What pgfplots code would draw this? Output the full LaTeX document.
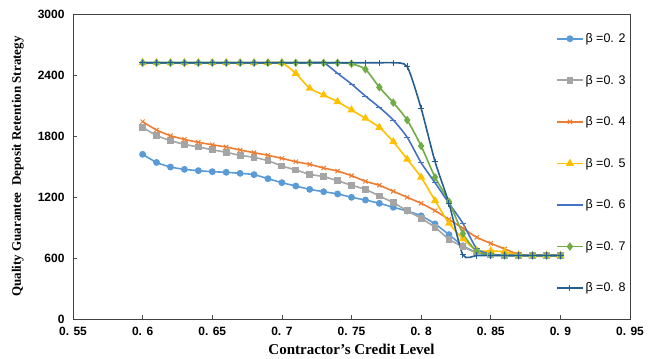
\documentclass[border=0pt]{standalone}
\usepackage{fontspec}
\setmainfont{Liberation Serif}
\setsansfont{Liberation Sans}
\usepackage{pgfplots}
\pgfplotsset{compat=1.18}
\definecolor{cA}{HTML}{5B9BD5}
\definecolor{cB}{HTML}{A5A5A5}
\definecolor{cC}{HTML}{ED7D31}
\definecolor{cD}{HTML}{FFC000}
\definecolor{cE}{HTML}{4472C4}
\definecolor{cF}{HTML}{70AD47}
\definecolor{cG}{HTML}{255E91}
\begin{document}
\begin{tikzpicture}
\begin{axis}[
  scale only axis, width=557pt, height=305pt,
  xmin=0.55, xmax=0.95, ymin=0, ymax=3000,
  xtick={0.55,0.6,0.65,0.7,0.75,0.8,0.85,0.9,0.95},
  xticklabels={0. 55,0. 6,0. 65,0. 7,0. 75,0. 8,0. 85,0. 9,0. 95},
  ytick={0,600,1200,1800,2400,3000},
  yticklabels={0,600,1200,1800,2400,3000},
  tick pos=left, tick align=inside, major tick length=4pt,
  tick style={black!70, line width=0.6pt},
  axis line style={black!75, line width=0.8pt},
  ticklabel style={font=\sffamily\bfseries\fontsize{12}{14}\selectfont},
  xticklabel style={yshift=-5pt},
  yticklabel style={xshift=-5pt},
  xlabel={Contractor's Credit Level},
  ylabel={Quality Guarantee\ \ Deposit Retention Strategy},
  xlabel style={font=\bfseries\fontsize{15}{17}\selectfont, at={(axis description cs:0.5,-0.098)}, anchor=center},
  ylabel style={font=\bfseries\fontsize{13}{15}\selectfont, at={(axis description cs:-0.099,0.5)}, anchor=center},
  legend style={at={(axis description cs:0.862,0.95)}, anchor=north west,
    draw=none, fill=none, font=\sffamily\fontsize{12.5}{14}\selectfont,
    row sep=27pt, cells={anchor=west}},
  legend image code/.code={\draw[mark repeat=2,mark phase=2] plot coordinates {(0cm,0cm) (0.45cm,0cm) (0.9cm,0cm)};},
  every axis plot/.append style={line width=1.6pt, smooth, tension=0.4},
]
\addplot[cA, mark=*, mark size=2.6pt] coordinates {
(0.60,1620)(0.61,1540)(0.62,1495)(0.63,1472)(0.64,1459)(0.65,1449)(0.66,1443)(0.67,1433)(0.68,1420)(0.69,1380)
(0.70,1341)(0.71,1308)(0.72,1275)(0.73,1252)(0.74,1230)(0.75,1197)(0.76,1170)(0.77,1138)(0.78,1099)(0.79,1062)
(0.80,1015)(0.81,935)(0.82,830)(0.83,720)(0.84,655)(0.85,632)(0.86,628)(0.87,625)(0.88,625)(0.89,625)(0.90,625)};
\addlegendentry{β =0. 2}
\addplot[cB, mark=square*, mark size=2.6pt] coordinates {
(0.60,1885)(0.61,1805)(0.62,1754)(0.63,1718)(0.64,1692)(0.65,1665)(0.66,1639)(0.67,1610)(0.68,1590)(0.69,1557)
(0.70,1505)(0.71,1466)(0.72,1423)(0.73,1400)(0.74,1360)(0.75,1315)(0.76,1275)(0.77,1210)(0.78,1144)(0.79,1065)
(0.80,990)(0.81,902)(0.82,784)(0.83,711)(0.84,650)(0.85,630)(0.86,625)(0.87,625)(0.88,625)(0.89,625)(0.90,625)};
\addlegendentry{β =0. 3}
\addplot[cC, mark=x, mark size=3pt, mark options={line width=1pt}] coordinates {
(0.60,1941)(0.61,1859)(0.62,1803)(0.63,1767)(0.64,1738)(0.65,1714)(0.66,1692)(0.67,1662)(0.68,1636)(0.69,1610)
(0.70,1580)(0.71,1547)(0.72,1521)(0.73,1485)(0.74,1455)(0.75,1410)(0.76,1354)(0.77,1315)(0.78,1256)(0.79,1197)
(0.80,1138)(0.81,1065)(0.82,980)(0.83,892)(0.84,803)(0.85,744)(0.86,689)(0.87,636)(0.88,625)(0.89,625)(0.90,625)};
\addlegendentry{β =0. 4}
\addplot[cD, mark=triangle*, mark size=3.2pt] coordinates {
(0.60,2520)(0.61,2520)(0.62,2520)(0.63,2520)(0.64,2520)(0.65,2520)(0.66,2520)(0.67,2520)(0.68,2520)(0.69,2520)
(0.70,2520)(0.71,2416)(0.72,2269)(0.73,2203)(0.74,2137)(0.75,2056)(0.76,1974)(0.77,1885)(0.78,1744)(0.79,1571)
(0.80,1394)(0.81,1164)(0.82,941)(0.83,790)(0.84,672)(0.85,670)(0.86,660)(0.87,630)(0.88,625)(0.89,625)(0.90,625)};
\addlegendentry{β =0. 5}
\addplot[cE, mark=-, mark size=3pt, mark options={line width=1pt}] coordinates {
(0.60,2520)(0.61,2520)(0.62,2520)(0.63,2520)(0.64,2520)(0.65,2520)(0.66,2520)(0.67,2520)(0.68,2520)(0.69,2520)
(0.70,2520)(0.71,2520)(0.72,2520)(0.73,2520)(0.74,2416)(0.75,2311)(0.76,2193)(0.77,2082)(0.78,1957)(0.79,1787)
(0.80,1537)(0.81,1340)(0.82,1138)(0.83,941)(0.84,690)(0.85,640)(0.86,625)(0.87,625)(0.88,625)(0.89,625)(0.90,625)};
\addlegendentry{β =0. 6}
\addplot[cF, mark=diamond*, mark size=3pt] coordinates {
(0.60,2520)(0.61,2520)(0.62,2520)(0.63,2520)(0.64,2520)(0.65,2520)(0.66,2520)(0.67,2520)(0.68,2520)(0.69,2520)
(0.70,2520)(0.71,2520)(0.72,2520)(0.73,2520)(0.74,2520)(0.75,2510)(0.76,2456)(0.77,2279)(0.78,2128)(0.79,1957)
(0.80,1702)(0.81,1394)(0.82,1154)(0.83,840)(0.84,665)(0.85,630)(0.86,625)(0.87,625)(0.88,625)(0.89,625)(0.90,625)};
\addlegendentry{β =0. 7}
\addplot[cG, mark=+, mark size=3.2pt, mark options={line width=1pt}] coordinates {
(0.60,2520)(0.61,2520)(0.62,2520)(0.63,2520)(0.64,2520)(0.65,2520)(0.66,2520)(0.67,2520)(0.68,2520)(0.69,2520)
(0.70,2520)(0.71,2520)(0.72,2520)(0.73,2520)(0.74,2520)(0.75,2520)(0.76,2520)(0.77,2520)(0.78,2520)(0.79,2482)
(0.80,2072)(0.81,1547)(0.82,1138)(0.83,630)(0.84,625)(0.85,625)(0.86,625)(0.87,625)(0.88,625)(0.89,625)(0.90,625)};
\addlegendentry{β =0. 8}
\end{axis}
\path (current axis.south west) ++(-73pt,-39pt) coordinate (bbA);
\path (current axis.north east) ++(26pt,14pt) coordinate (bbB);
\path (bbA) rectangle (bbB);
\end{tikzpicture}
\end{document}
